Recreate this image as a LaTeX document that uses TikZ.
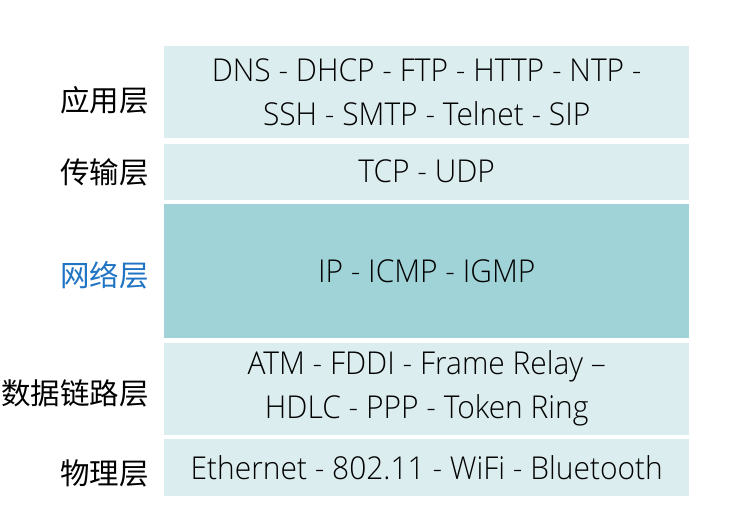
\documentclass[tikz,border=0pt]{standalone}
\usepackage{fontspec}
\setmainfont{Open Sans Light}[FakeStretch=0.95]
\newfontfamily\cjk{Noto Sans CJK SC}
\definecolor{layerpale}{HTML}{DBEDEF}
\definecolor{layerdeep}{HTML}{A0D3D7}
\definecolor{labelblue}{HTML}{1F74C4}
\begin{document}
\begin{tikzpicture}[x=1pt,y=-1pt,
  layerbox/.style={anchor=north west, fill=layerpale, draw=none, inner sep=0pt,
    minimum width=525pt, align=center, text=black,
    font=\fontsize{31.5}{44}\selectfont},
  layerlabel/.style={anchor=east, inner sep=0pt, text=black,
    font=\cjk\fontsize{29.5}{31}\selectfont}]
\useasboundingbox (0,0) rectangle (740,525);

% protocol stack, top to bottom
\node[layerbox, minimum height=92pt] (app) at (164,46)
  {DNS - DHCP - FTP - HTTP - NTP -\\SSH - SMTP - Telnet - SIP};
\node[layerbox, minimum height=56pt] (trans) at (164,143.5) {TCP - UDP};
\node[layerbox, minimum height=134pt, fill=layerdeep] (net) at (164,204) {IP - ICMP - IGMP};
\node[layerbox, minimum height=92pt] (link) at (164,342.3)
  {ATM - FDDI - Frame Relay –\\HDLC - PPP - Token Ring};
\node[layerbox, minimum height=57pt] (phys) at (164,439) {Ethernet - 802.11 - WiFi - Bluetooth};

% layer names
\node[layerlabel] (lapp) at (149,100) {应用层};
\node[layerlabel] (ltrans) at (149,172.5) {传输层};
\node[layerlabel, text=labelblue] (lnet) at (149,275.5) {网络层};
\node[layerlabel] (llink) at (149,393.5) {数据链路层};
\node[layerlabel] (lphys) at (149,473.5) {物理层};
\end{tikzpicture}
\end{document}
